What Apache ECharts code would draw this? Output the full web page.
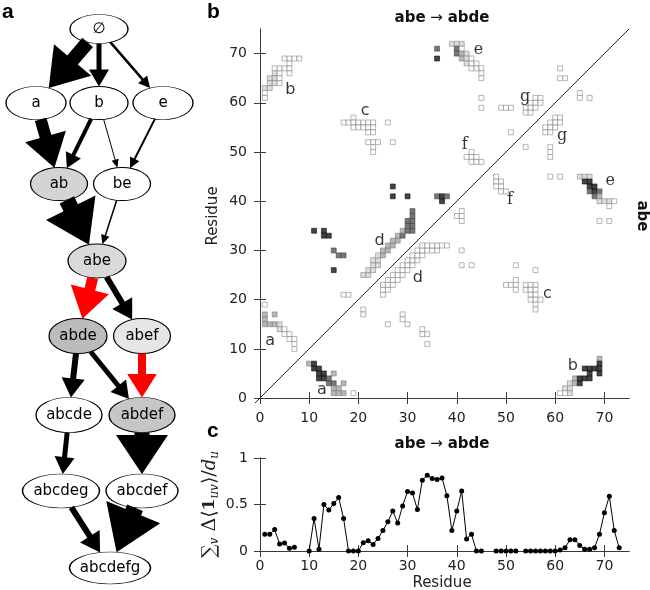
<!DOCTYPE html>
<html>
<head>
<meta charset="utf-8">
<script src="https://cdn.jsdelivr.net/npm/echarts@6/dist/echarts.min.js"></script>
<style>
html, body { margin: 0; padding: 0; background: #fff; }
#main { width: 650px; height: 590px; }
</style>
</head>
<body>
<div id="main"></div>
<script>
// ---- panel a: assembly graph ----
const nodeNames = ['∅', 'a', 'b', 'e', 'ab', 'be', 'abe', 'abde', 'abef', 'abcde', 'abdef', 'abcdeg', 'abcdef', 'abcdefg']
const edgeFrom = ['∅', '∅', '∅', 'a', 'b', 'b', 'e', 'ab', 'be', 'abe', 'abe', 'abde', 'abde', 'abef', 'abcde', 'abdef', 'abcdeg', 'abcdef']
const edgeTo = ['a', 'b', 'e', 'ab', 'ab', 'be', 'be', 'abe', 'abe', 'abde', 'abef', 'abcde', 'abdef', 'abdef', 'abcdeg', 'abcdef', 'abcdefg', 'abcdefg']
const edgeWeight = [14, 5, 2.5, 12, 4, 1, 2, 16, 1.5, 11, 6, 6, 5, 8, 5, 15, 6, 17]
const edgeOnPath = [0, 0, 0, 0, 0, 0, 0, 0, 0, 1, 0, 0, 0, 1, 0, 0, 0, 0]

// node placement and look (pixels inside panel a)
const nodeLayout = {
	'∅': { x: 99, y: 29, w: 58, h: 29, fill: '#ffffff' },
	'a': { x: 36, y: 103, w: 60, h: 33, fill: '#ffffff' },
	'b': { x: 99, y: 103, w: 58, h: 33, fill: '#ffffff' },
	'e': { x: 163, y: 103, w: 60, h: 33, fill: '#ffffff' },
	'ab': { x: 59, y: 184, w: 57, h: 33, fill: '#d4d4d4' },
	'be': { x: 122, y: 184, w: 57, h: 33, fill: '#ffffff' },
	'abe': { x: 97, y: 261, w: 58, h: 34, fill: '#d9d9d9' },
	'abde': { x: 78, y: 336, w: 58, h: 35, fill: '#bcbcbc' },
	'abef': { x: 142, y: 336, w: 57, h: 35, fill: '#e6e6e6' },
	'abcde': { x: 69, y: 415, w: 66, h: 35, fill: '#ffffff' },
	'abdef': { x: 142, y: 415, w: 66, h: 35, fill: '#c6c6c6' },
	'abcdeg': { x: 61, y: 491, w: 77, h: 34, fill: '#ffffff' },
	'abcdef': { x: 142, y: 491, w: 72, h: 34, fill: '#ffffff' },
	'abcdefg': { x: 110, y: 568, w: 81, h: 32, fill: '#ffffff' }
}

// ---- panel b: contact maps, [residue u, residue v, level 0..4] ----
const upperCells = [
	[5,69,0],[6,69,0],[7,69,0],[8,69,0],[6,68,0],[3,67,0],[4,67,0],[5,67,0],[6,67,0],
	[3,66,1],[4,66,0],[6,66,0],[2,65,1],[3,65,1],[4,65,0],[2,64,1],[3,64,1],[4,64,0],
	[1,63,1],[2,63,1],[1,62,0],[1,61,0],
	[19,57,0],[17,56,0],[18,56,0],[19,56,0],[20,56,0],[21,56,0],[22,56,0],[23,56,0],[26,56,0],
	[19,55,0],[20,55,0],[21,55,0],[22,55,0],[23,55,0],[22,54,0],[23,54,0],
	[22,52,0],[23,52,0],[24,52,0],[27,52,0],[23,51,0],[23,50,0],
	[39,72,1],[40,72,1],[41,72,1],[40,71,3],[41,71,0],[40,70,3],[41,70,2],[42,70,1],
	[41,69,2],[42,69,1],[43,69,0],[42,68,1],[43,68,0],[44,68,0],[43,67,0],[44,67,0],[45,67,0],
	[45,66,0],[45,65,0],[36,71,3],[36,69,4],
	[45,61,0],[45,59,0],[49,59,0],[50,59,0],[51,59,0],
	[56,61,0],[57,61,0],[55,60,0],[56,60,0],[57,60,0],[54,59,0],[55,59,0],[56,59,0],[54,58,0],[55,58,0],
	[61,67,0],[61,65,0],[62,65,0],[51,54,0],
	[43,50,0],[42,49,0],[43,49,0],[44,49,0],[43,48,0],[44,48,0],[45,48,0],
	[36,41,3],[37,41,4],[38,41,3],[37,40,4],[27,43,4],[27,41,4],[30,41,4],
	[21,25,1],[22,25,1],[22,26,1],[23,26,1],[23,27,1],[24,27,1],[23,28,1],[24,28,1],
	[24,29,1],[25,29,2],[25,30,2],[26,30,2],[26,31,2],[27,31,2],[27,32,2],[28,32,2],
	[28,33,2],[29,33,3],[29,34,2],[30,34,3],[31,34,3],[30,35,3],[31,35,3],[30,36,3],[31,36,3],
	[31,37,3],[31,38,3],
	[11,34,4],[13,34,4],[13,33,4],[14,33,4],[15,30,3],[16,29,3],[17,29,3],[15,26,4],
	[17,21,0],[18,21,0],
	[1,19,0],[1,17,2],[3,17,2],[1,16,2],[1,15,2],[2,15,2],[3,15,2],[4,15,1],[4,14,1],[5,14,0],
	[5,13,0],[6,13,0],[6,12,0],[7,12,0],[7,11,0],[7,10,0]
]
const lowerCells = [
	[10,7,2],[11,7,4],[11,6,4],[12,6,4],[12,5,4],[13,5,4],[15,5,2],[12,4,4],[13,4,4],[14,4,3],
	[14,3,3],[15,3,3],[17,3,2],[15,2,2],[16,2,2],[15,1,2],[16,1,2],[17,1,2],[19,1,0],
	[25,21,0],[25,22,0],[26,22,0],[25,23,0],[26,23,0],[27,23,0],[26,24,0],[27,24,0],[28,24,0],
	[27,25,0],[28,25,0],[29,25,0],[28,26,0],[29,26,0],[30,26,0],[29,27,0],[30,27,0],[31,27,0],
	[30,28,0],[31,28,0],[32,28,0],[31,29,0],[32,29,0],[33,29,0],
	[32,30,0],[33,30,0],[34,30,0],[35,30,0],[36,30,0],
	[33,31,0],[34,31,0],[35,31,0],[36,31,0],[37,31,0],[38,31,0],
	[21,18,0],[21,17,0],[26,15,0],[29,17,0],[29,16,0],[30,15,0],[33,14,0],[33,13,0],[34,13,0],[34,11,0],
	[41,38,0],[41,37,0],[40,37,0],[41,36,0],[41,30,0],[41,27,0],[43,27,0],[52,27,0],[56,26,0],
	[69,36,0],[71,36,0],
	[52,24,0],[50,23,0],[51,23,0],[52,23,0],[54,23,0],[55,23,0],[56,23,0],[52,22,0],[54,22,0],
	[55,22,0],[56,22,0],[55,21,0],[56,21,0],[55,20,0],[56,20,0],[57,20,0],[56,19,0],[56,18,0],
	[60,57,0],[61,57,0],[59,56,0],[60,56,0],[61,56,0],[58,55,0],[59,55,0],[60,55,0],[58,54,0],[59,54,0],
	[54,51,0],[59,51,0],[59,50,0],[59,49,0],[65,62,0],[65,61,0],[67,61,0],
	[48,45,0],[48,44,0],[49,44,0],[48,43,0],[49,43,0],[49,42,0],[50,42,0],[59,45,0],[61,45,0],
	[65,45,1],[66,45,1],[67,45,1],[66,44,4],[67,44,4],[67,43,4],[68,43,4],[67,42,3],[68,42,4],
	[69,42,3],[68,41,3],[69,41,2],[69,40,1],[70,40,1],[71,40,1],[72,40,0],[71,39,0],
	[69,8,2],[69,7,4],[66,6,4],[67,6,4],[68,6,4],[69,6,4],[67,5,4],[69,5,4],[64,4,2],[65,4,4],
	[66,4,4],[67,4,4],[63,3,1],[64,3,2],[65,3,4],[62,2,1],[63,2,1],[61,1,0],[62,1,0],[63,1,1]
]
const clusterText = ['b', 'c', 'e', 'g', 'g', 'f', 'f', 'e', 'd', 'd', 'a', 'a', 'c', 'b']
const clusterX = [6.2, 21.4, 44.4, 53.9, 61.4, 41.6, 50.8, 71.2, 24.3, 32.1, 2.1, 12.6, 58.4, 63.6]
const clusterY = [62.7, 58.4, 70.8, 61.2, 53.2, 51.4, 40.2, 44.1, 31.9, 24.5, 11.6, 1.6, 21.2, 6.6]

// ---- panel c: change per residue ----
const residues = []
for (let r = 1; r <= 73; r++) residues.push(r)
const fluxChange = [
	0.18, 0.18, 0.23, 0.075, 0.085, 0.03, 0.04, null, null, 0,
	0.35, 0.02, 0.5, 0.44, 0.51, 0.575, 0.35, 0, 0, 0,
	0.09, 0.11, 0.07, 0.135, 0.22, 0.315, 0.43, 0.3, 0.485, 0.64,
	0.625, 0.445, 0.76, 0.815, 0.78, 0.77, 0.785, 0.595, 0.22, 0.43,
	0.645, 0.13, 0.18, 0, 0, null, null, 0, 0, 0,
	0, 0, null, 0, 0, 0, 0, 0, 0, 0,
	0.01, 0.035, 0.12, 0.12, 0.06, 0.02, 0.02, 0.035, 0.18, 0.41,
	0.59, 0.22, 0.035
]

const residueTicks = [0, 10, 20, 30, 40, 50, 60, 70]
const fluxTicks = [0, 0.5, 1]
const resMin = -1
const resMax = 75

const levelFill = ['#ffffff', '#d6d6d6', '#a6a6a6', '#555555', '#151515']
const levelBorder = ['#8c8c8c', '#8c8c8c', '#808080', '#4a4a4a', '#151515']
const font = 'DejaVu Sans'
const axisColor = '#3a3a3a'

const gridB = { left: 255, top: 29, width: 374, height: 374, outerBoundsMode: 'none' }
const cellPx = gridB.width / (resMax - resMin)

const chart = echarts.init(document.getElementById('main'))

function renderEdge(params, api) {
	const a = nodeLayout[nodeNames[api.value(0)]]
	const b = nodeLayout[nodeNames[api.value(1)]]
	const w = api.value(2)
	const color = api.value(3) ? '#ff0000' : '#000000'
	const A = api.coord([a.x, a.y])
	const B = api.coord([b.x, b.y])
	let dx = B[0] - A[0]
	let dy = B[1] - A[1]
	const len = Math.hypot(dx, dy)
	dx /= len
	dy /= len
	// where the straight edge leaves / meets each ellipse
	const tA = 1 / Math.sqrt((dx / (a.w / 2)) ** 2 + (dy / (a.h / 2)) ** 2)
	const tB = 1 / Math.sqrt((dx / (b.w / 2)) ** 2 + (dy / (b.h / 2)) ** 2)
	const start = [A[0] + dx * tA, A[1] + dy * tA]
	const tip = [B[0] - dx * tB, B[1] - dy * tB]
	const headL = 6 + 2.2 * w
	const headW = 4 + 3.2 * w
	const base = [tip[0] - dx * headL, tip[1] - dy * headL]
	const nx = -dy
	const ny = dx
	return {
		type: 'group',
		children: [
			{
				type: 'line',
				shape: { x1: start[0], y1: start[1], x2: base[0] + dx, y2: base[1] + dy },
				style: { stroke: color, lineWidth: w }
			},
			{
				type: 'polygon',
				shape: {
					points: [
						tip,
						[base[0] + nx * headW / 2, base[1] + ny * headW / 2],
						[base[0] - nx * headW / 2, base[1] - ny * headW / 2]
					]
				},
				style: { fill: color }
			}
		]
	}
}

const residueAxis = {
	type: 'value',
	min: resMin,
	max: resMax,
	nameMoveOverlap: false,
	axisLine: { lineStyle: { color: axisColor, width: 1 } },
	axisTick: { inside: true, length: 6, customValues: residueTicks, lineStyle: { color: axisColor } },
	axisLabel: { customValues: residueTicks, color: '#222', fontSize: 14, fontFamily: font, margin: 8 },
	splitLine: { show: false }
}

const titleRich = {
	b: { fontSize: 15, fontWeight: 'bold', fontFamily: font, fill: '#111' },
	n: { fontSize: 15, fontFamily: font, fill: '#111' }
}

const option = {
	animation: false,
	backgroundColor: '#ffffff',
	textStyle: { fontFamily: font },
	grid: [
		{ left: 0, top: 0, width: 215, height: 590, outerBoundsMode: 'none' },
		gridB,
		{ left: 255, top: 458, width: 374, height: 93, outerBoundsMode: 'none' }
	],
	xAxis: [
		{ gridIndex: 0, type: 'value', min: 0, max: 215, show: false },
		Object.assign({}, residueAxis, { gridIndex: 1, position: 'bottom' }),
		Object.assign({}, residueAxis, { gridIndex: 1, position: 'top', axisLabel: { show: false } }),
		Object.assign({}, residueAxis, {
			gridIndex: 2,
			position: 'bottom',
			name: 'Residue',
			nameLocation: 'middle',
			nameGap: 25,
			nameTextStyle: { fontSize: 15, color: '#222', fontFamily: font }
		}),
		Object.assign({}, residueAxis, { gridIndex: 2, position: 'top', axisLabel: { show: false } })
	],
	yAxis: [
		{ gridIndex: 0, type: 'value', min: 0, max: 590, inverse: true, show: false },
		Object.assign({}, residueAxis, {
			gridIndex: 1,
			position: 'left',
			name: 'Residue',
			nameLocation: 'middle',
			nameGap: 34,
			nameTextStyle: { fontSize: 15, color: '#222', fontFamily: font }
		}),
		Object.assign({}, residueAxis, {
			gridIndex: 1,
			position: 'right',
			axisLabel: { show: false },
			name: 'abe',
			nameLocation: 'middle',
			nameRotate: -90,
			nameGap: 5,
			nameTextStyle: { fontSize: 15, fontWeight: 'bold', color: '#111', fontFamily: font }
		}),
		{
			gridIndex: 2,
			type: 'value',
			position: 'left',
			min: 0,
			max: 1,
			nameMoveOverlap: false,
			axisLine: { lineStyle: { color: axisColor } },
			axisTick: { inside: true, length: 6, customValues: fluxTicks, lineStyle: { color: axisColor } },
			axisLabel: { customValues: fluxTicks, color: '#222', fontSize: 14, fontFamily: font, margin: 7 },
			splitLine: { show: false },
			name: '{m|∑}{s|v}{m| Δ⟨}{bb|1}{s|uv}{m|⟩/}{it|d}{s|u}',
			nameLocation: 'middle',
			nameGap: 34,
			nameTextStyle: {
				color: '#222',
				rich: {
					m: { fontSize: 19, fontFamily: 'DejaVu Serif', color: '#222' },
					s: { fontSize: 12, fontStyle: 'italic', fontFamily: 'DejaVu Serif', color: '#222', padding: [10, 0, 0, 0] },
					bb: { fontSize: 17, fontWeight: 'bold', fontFamily: 'DejaVu Serif', color: '#222' },
					it: { fontSize: 18, fontStyle: 'italic', fontFamily: 'DejaVu Serif', color: '#222' }
				}
			}
		},
		{
			gridIndex: 2,
			type: 'value',
			position: 'right',
			min: 0,
			max: 1,
			axisLine: { lineStyle: { color: axisColor } },
			axisTick: { inside: true, length: 6, customValues: fluxTicks, lineStyle: { color: axisColor } },
			axisLabel: { show: false },
			splitLine: { show: false }
		}
	],
	graphic: [
		{ type: 'text', left: 2, top: 2, style: { text: 'a', fontSize: 21, fontWeight: 'bold', fontFamily: 'Liberation Sans', fill: '#000' } },
		{ type: 'text', left: 207, top: 2, style: { text: 'b', fontSize: 21, fontWeight: 'bold', fontFamily: 'Liberation Sans', fill: '#000' } },
		{ type: 'text', left: 207, top: 421, style: { text: 'c', fontSize: 21, fontWeight: 'bold', fontFamily: 'Liberation Sans', fill: '#000' } },
		{
			type: 'text', x: 442, y: 18,
			style: { text: '{b|abe}{n| → }{b|abde}', align: 'center', verticalAlign: 'middle', rich: titleRich }
		},
		{
			type: 'text', x: 442, y: 444,
			style: { text: '{b|abe}{n| → }{b|abde}', align: 'center', verticalAlign: 'middle', rich: titleRich }
		}
	],
	series: [
		{
			type: 'scatter',
			name: 'states',
			xAxisIndex: 0,
			yAxisIndex: 0,
			z: 2,
			symbol: 'circle',
			data: nodeNames.map(n => ({
				name: n,
				value: [nodeLayout[n].x, nodeLayout[n].y],
				symbolSize: [nodeLayout[n].w, nodeLayout[n].h],
				itemStyle: { color: nodeLayout[n].fill }
			})),
			itemStyle: { borderColor: '#000', borderWidth: 1, opacity: 1 },
			label: { show: true, position: 'inside', formatter: '{b}', fontSize: 15, fontFamily: font, color: '#000' },
			emphasis: { disabled: true }
		},
		{
			type: 'custom',
			name: 'transitions',
			xAxisIndex: 0,
			yAxisIndex: 0,
			z: 3,
			clip: false,
			data: edgeFrom.map((f, i) => [nodeNames.indexOf(f), nodeNames.indexOf(edgeTo[i]), edgeWeight[i], edgeOnPath[i]]),
			renderItem: renderEdge
		},
		{
			type: 'line',
			xAxisIndex: 1,
			yAxisIndex: 1,
			data: [[resMin, resMin], [resMax, resMax]],
			symbol: 'none',
			lineStyle: { color: '#222', width: 1 },
			z: 1
		},
		{
			type: 'scatter',
			name: 'contacts',
			xAxisIndex: 1,
			yAxisIndex: 1,
			symbol: 'rect',
			symbolSize: cellPx,
			z: 2,
			data: upperCells.concat(lowerCells).map(c => ({
				value: [c[0], c[1]],
				itemStyle: { color: levelFill[c[2]], borderColor: levelBorder[c[2]], borderWidth: 0.8 }
			})),
			emphasis: { disabled: true }
		},
		{
			type: 'scatter',
			xAxisIndex: 1,
			yAxisIndex: 1,
			symbolSize: 0,
			z: 4,
			data: clusterText.map((t, i) => ({
				name: t,
				value: [clusterX[i], clusterY[i]],
				label: { fontFamily: 'abcd'.includes(t) ? font : 'DejaVu Serif' }
			})),
			label: { show: true, position: 'inside', formatter: '{b}', fontSize: 16, color: '#000' },
			emphasis: { disabled: true }
		},
		{
			type: 'line',
			xAxisIndex: 3,
			yAxisIndex: 3,
			data: residues.map((r, i) => [r, fluxChange[i]]),
			symbol: 'circle',
			symbolSize: 5,
			showSymbol: true,
			lineStyle: { color: '#000', width: 1 },
			itemStyle: { color: '#000' },
			emphasis: { disabled: true }
		}
	]
}

chart.setOption(option)
</script>
</body>
</html>
